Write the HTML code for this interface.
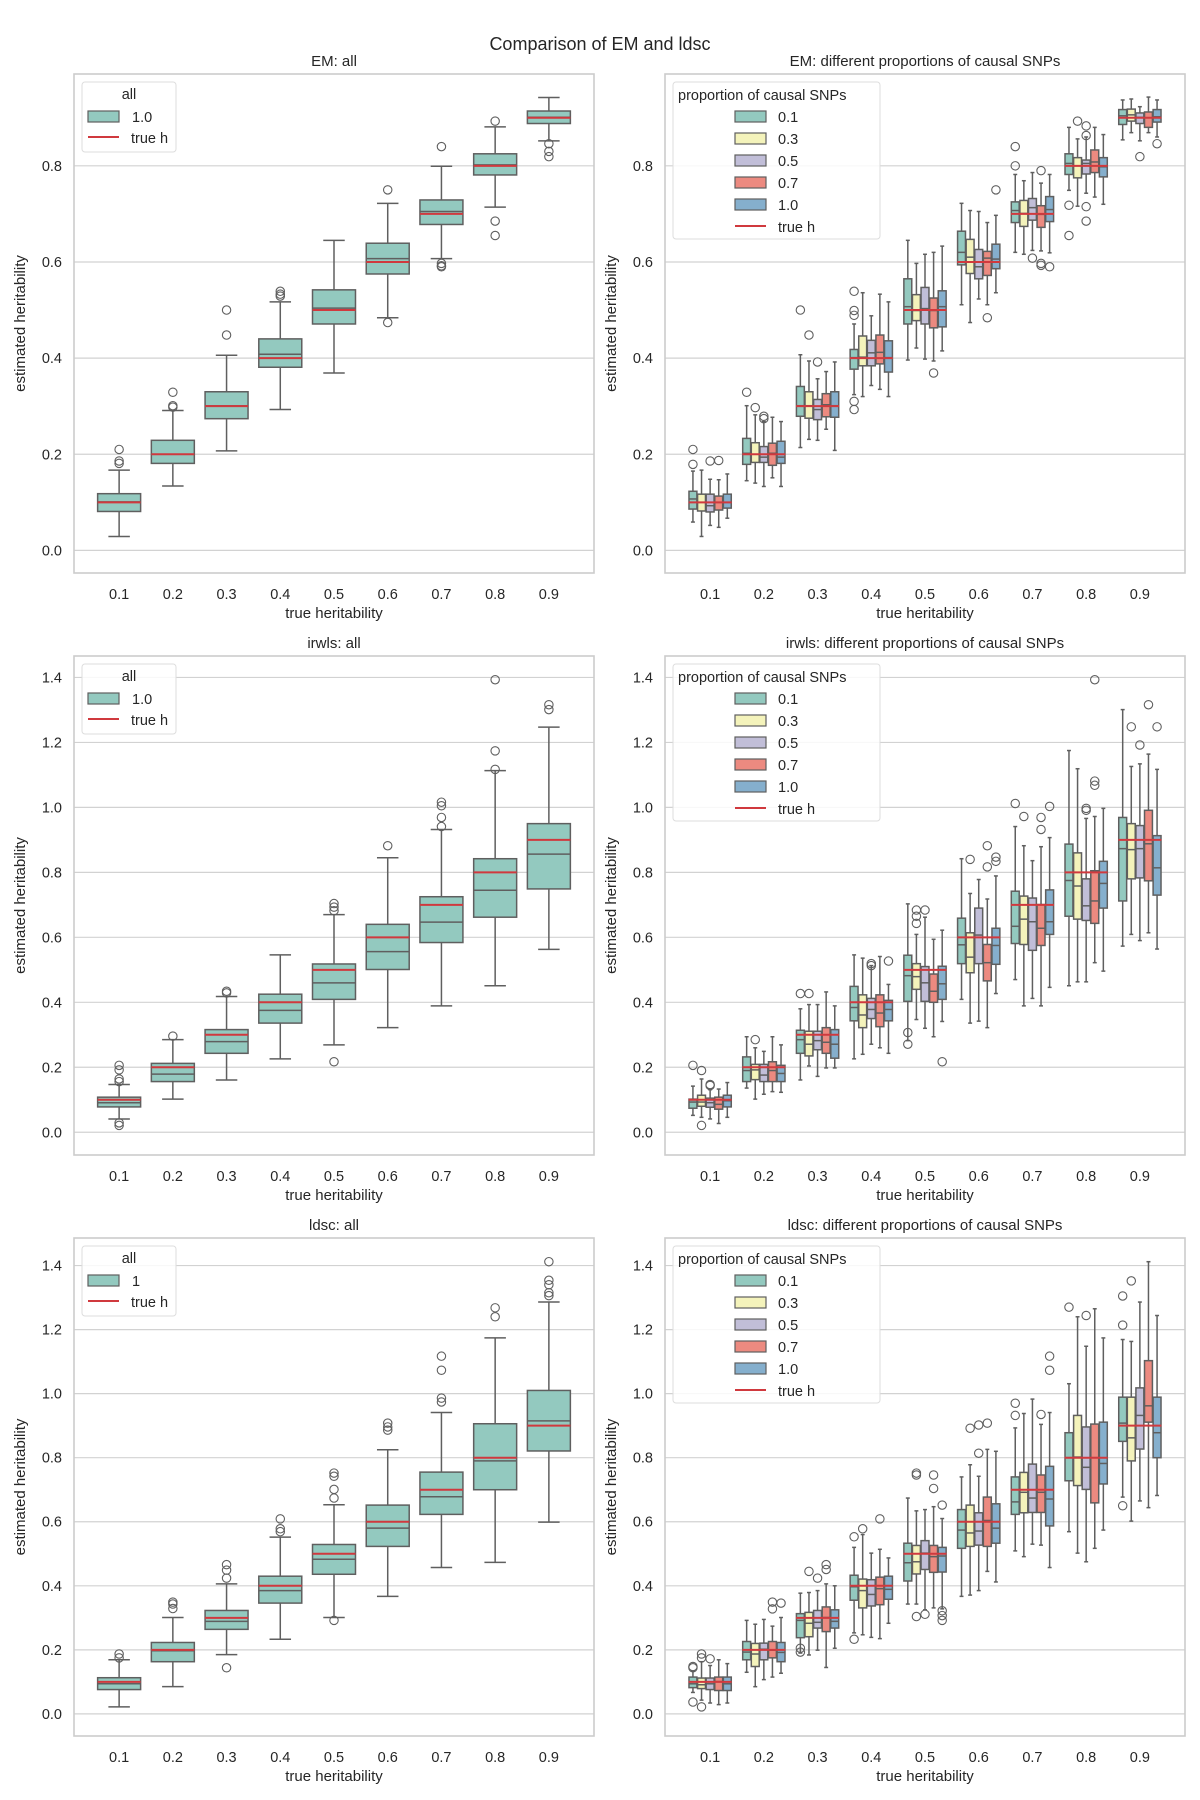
<!DOCTYPE html>
<html><head><meta charset="utf-8"><style>
html,body{margin:0;padding:0;background:#fff;}
svg{display:block;font-family:"Liberation Sans","DejaVu Sans",sans-serif;}
</style></head><body>
<svg id="fig" width="1200" height="1800" viewBox="0 0 1200 1800" xmlns="http://www.w3.org/2000/svg">
<text x="600" y="50" text-anchor="middle" font-size="18" fill="#262626">Comparison of EM and ldsc</text>
</svg>
<script>
const categories = ["0.1","0.2","0.3","0.4","0.5","0.6","0.7","0.8","0.9"];
const trueH = [0.1,0.2,0.3,0.4,0.5,0.6,0.7,0.8,0.9];
const hueLabels = ["0.1","0.3","0.5","0.7","1.0"];
const ticksRow1 = [0,0.2,0.4,0.6,0.8];
const ticksRow23 = [0,0.2,0.4,0.6,0.8,1.0,1.2,1.4];

// [lowWhisker, q1, median, q3, highWhisker]
const emAll = [[0.029,0.081,0.101,0.118,0.167],[0.134,0.181,0.2,0.229,0.291],[0.207,0.274,0.301,0.33,0.406],[0.293,0.381,0.408,0.44,0.517],[0.369,0.471,0.504,0.542,0.645],[0.484,0.575,0.607,0.639,0.722],[0.607,0.678,0.705,0.729,0.799],[0.714,0.781,0.802,0.825,0.881],[0.852,0.888,0.901,0.914,0.942]];
const emAllOut = [[0.21,0.186,0.181],[0.329,0.301,0.298],[0.448,0.5],[0.539,0.533,0.529],[],[0.75,0.474],[0.84,0.597,0.592,0.59],[0.893,0.685,0.655],[0.846,0.83,0.819]];

const emHue01 = [[0.059,0.086,0.107,0.123,0.165],[0.145,0.179,0.202,0.233,0.301],[0.214,0.279,0.301,0.341,0.407],[0.324,0.377,0.401,0.418,0.471],[0.396,0.471,0.507,0.565,0.645],[0.511,0.594,0.62,0.664,0.722],[0.62,0.682,0.707,0.725,0.782],[0.749,0.782,0.805,0.825,0.88],[0.854,0.886,0.904,0.917,0.937]];
const emHue03 = [[0.029,0.082,0.1,0.117,0.167],[0.14,0.183,0.2,0.224,0.282],[0.231,0.275,0.301,0.33,0.394],[0.32,0.384,0.402,0.446,0.536],[0.421,0.478,0.499,0.532,0.597],[0.474,0.576,0.61,0.647,0.707],[0.616,0.674,0.701,0.728,0.769],[0.716,0.775,0.8,0.817,0.856],[0.869,0.893,0.906,0.918,0.939]];
const emHue05 = [[0.052,0.08,0.093,0.117,0.148],[0.133,0.183,0.194,0.216,0.268],[0.229,0.272,0.293,0.314,0.357],[0.343,0.384,0.411,0.437,0.488],[0.398,0.471,0.503,0.547,0.616],[0.523,0.565,0.59,0.626,0.705],[0.624,0.687,0.713,0.732,0.786],[0.743,0.783,0.805,0.812,0.86],[0.852,0.888,0.901,0.91,0.923]];
const emHue07 = [[0.048,0.084,0.1,0.113,0.147],[0.151,0.177,0.202,0.223,0.277],[0.252,0.278,0.303,0.326,0.372],[0.335,0.388,0.412,0.448,0.533],[0.394,0.463,0.499,0.525,0.62],[0.511,0.572,0.608,0.622,0.682],[0.623,0.672,0.699,0.717,0.764],[0.735,0.786,0.808,0.833,0.88],[0.869,0.88,0.9,0.912,0.943]];
const emHue10 = [[0.067,0.088,0.1,0.117,0.159],[0.133,0.181,0.194,0.227,0.268],[0.208,0.277,0.301,0.33,0.392],[0.32,0.371,0.401,0.436,0.517],[0.415,0.465,0.507,0.54,0.633],[0.536,0.586,0.606,0.637,0.697],[0.619,0.684,0.709,0.736,0.782],[0.72,0.777,0.798,0.817,0.865],[0.86,0.891,0.902,0.917,0.937]];
// [group, series, value]
const emHueOut = [[0,0,0.21],[0,0,0.179],[0,2,0.186],[0,3,0.187],[1,0,0.329],[1,1,0.297],[1,2,0.279],[1,2,0.274],[2,0,0.5],[2,1,0.448],[2,2,0.392],[3,0,0.539],[3,0,0.499],[3,0,0.489],[3,0,0.31],[3,0,0.293],[4,3,0.369],[5,3,0.484],[5,4,0.75],[6,0,0.84],[6,0,0.8],[6,2,0.608],[6,3,0.597],[6,3,0.593],[6,3,0.79],[6,4,0.59],[7,0,0.718],[7,0,0.655],[7,1,0.893],[7,2,0.883],[7,2,0.863],[7,2,0.715],[7,2,0.685],[8,2,0.819],[8,4,0.846]];

const irAll = [[0.041,0.078,0.091,0.108,0.147],[0.102,0.156,0.179,0.212,0.285],[0.161,0.243,0.279,0.316,0.418],[0.226,0.336,0.375,0.425,0.546],[0.269,0.409,0.46,0.518,0.67],[0.322,0.501,0.556,0.64,0.845],[0.389,0.584,0.647,0.725,0.932],[0.451,0.662,0.745,0.842,1.113],[0.563,0.749,0.856,0.95,1.247]];
const irAllOut = [[0.206,0.192,0.164,0.156,0.029,0.021],[0.296],[0.434,0.429],[],[0.217,0.704,0.693,0.682],[0.882],[0.941,0.969,1.005,1.016],[1.117,1.174,1.393],[1.301,1.316]];

const irHue01 = [[0.052,0.074,0.093,0.102,0.142],[0.136,0.156,0.19,0.232,0.294],[0.161,0.243,0.285,0.314,0.38],[0.226,0.343,0.384,0.449,0.546],[0.282,0.403,0.482,0.545,0.703],[0.409,0.519,0.577,0.659,0.842],[0.47,0.581,0.634,0.742,0.941],[0.451,0.665,0.775,0.887,1.175],[0.573,0.712,0.873,0.969,1.301]];
const irHue03 = [[0.046,0.08,0.093,0.114,0.164],[0.102,0.162,0.192,0.209,0.26],[0.204,0.235,0.271,0.311,0.393],[0.24,0.322,0.361,0.423,0.536],[0.347,0.44,0.479,0.519,0.609],[0.336,0.491,0.539,0.614,0.735],[0.389,0.578,0.656,0.727,0.882],[0.463,0.656,0.758,0.86,1.119],[0.609,0.78,0.87,0.95,1.126]];
const irHue05 = [[0.041,0.077,0.091,0.105,0.131],[0.117,0.156,0.176,0.209,0.249],[0.172,0.254,0.282,0.311,0.393],[0.271,0.35,0.378,0.412,0.513],[0.32,0.403,0.46,0.51,0.662],[0.342,0.519,0.607,0.69,0.778],[0.412,0.56,0.648,0.721,0.836],[0.463,0.652,0.697,0.78,0.966],[0.59,0.783,0.873,0.944,1.134]];
const irHue07 = [[0.027,0.071,0.086,0.108,0.133],[0.125,0.156,0.19,0.217,0.294],[0.198,0.243,0.277,0.322,0.432],[0.26,0.325,0.367,0.423,0.541],[0.294,0.4,0.434,0.487,0.594],[0.322,0.466,0.522,0.578,0.718],[0.389,0.575,0.628,0.701,0.879],[0.522,0.643,0.712,0.805,0.972],[0.614,0.774,0.888,0.991,1.164]];
const irHue10 = [[0.046,0.078,0.097,0.114,0.153],[0.123,0.156,0.181,0.206,0.269],[0.198,0.228,0.271,0.316,0.389],[0.243,0.343,0.378,0.406,0.455],[0.341,0.409,0.457,0.511,0.622],[0.427,0.517,0.575,0.628,0.789],[0.446,0.609,0.648,0.746,0.907],[0.496,0.69,0.766,0.834,0.997],[0.564,0.73,0.814,0.913,1.117]];
const irHueOut = [[0,0,0.206],[0,1,0.19],[0,1,0.021],[0,2,0.147],[0,2,0.144],[1,1,0.285],[2,0,0.427],[2,1,0.427],[3,2,0.519],[3,2,0.513],[3,4,0.527],[4,0,0.307],[4,0,0.271],[4,1,0.684],[4,1,0.665],[4,1,0.643],[4,2,0.684],[4,4,0.217],[5,1,0.84],[5,3,0.882],[5,3,0.817],[5,4,0.847],[5,4,0.834],[6,0,1.012],[6,1,0.972],[6,3,0.969],[6,3,0.932],[6,4,1.003],[7,2,0.997],[7,2,0.991],[7,3,1.393],[7,3,1.081],[7,3,1.068],[8,1,1.248],[8,2,1.192],[8,3,1.316],[8,4,1.248]];

const ldAll = [[0.022,0.076,0.094,0.113,0.169],[0.085,0.163,0.197,0.223,0.301],[0.185,0.264,0.289,0.323,0.406],[0.233,0.346,0.385,0.43,0.552],[0.301,0.436,0.483,0.529,0.653],[0.367,0.523,0.58,0.652,0.825],[0.457,0.623,0.678,0.755,0.941],[0.473,0.7,0.79,0.906,1.174],[0.599,0.821,0.915,1.01,1.286]];
const ldAllOut = [[0.187,0.175],[0.349,0.329,0.343],[0.144,0.424,0.449,0.466],[0.569,0.578,0.609],[0.292,0.674,0.701,0.742,0.752],[0.886,0.896,0.908],[0.974,0.986,1.073,1.117],[1.24,1.268],[1.306,1.315,1.34,1.354,1.412]];

const ldHue01 = [[0.067,0.082,0.094,0.115,0.133],[0.13,0.169,0.193,0.226,0.292],[0.19,0.238,0.292,0.313,0.377],[0.253,0.355,0.397,0.433,0.52],[0.343,0.415,0.472,0.533,0.674],[0.367,0.517,0.574,0.638,0.74],[0.509,0.623,0.662,0.74,0.893],[0.569,0.728,0.8,0.878,1.031],[0.677,0.851,0.908,0.989,1.169]];
const ldHue03 = [[0.043,0.079,0.091,0.112,0.163],[0.085,0.148,0.187,0.22,0.28],[0.184,0.241,0.283,0.317,0.379],[0.247,0.331,0.385,0.421,0.56],[0.343,0.437,0.475,0.526,0.634],[0.371,0.523,0.565,0.652,0.778],[0.491,0.628,0.692,0.754,0.938],[0.502,0.713,0.802,0.932,1.24],[0.602,0.79,0.862,0.989,1.163]];
const ldHue05 = [[0.034,0.076,0.094,0.112,0.151],[0.107,0.169,0.202,0.221,0.295],[0.199,0.268,0.286,0.323,0.385],[0.239,0.337,0.373,0.419,0.502],[0.325,0.451,0.502,0.541,0.638],[0.385,0.527,0.571,0.628,0.742],[0.53,0.629,0.674,0.78,0.983],[0.475,0.701,0.77,0.896,1.148],[0.665,0.827,0.932,1.018,1.286]];
const ldHue07 = [[0.029,0.073,0.101,0.115,0.169],[0.115,0.175,0.199,0.226,0.274],[0.145,0.257,0.301,0.334,0.406],[0.235,0.341,0.391,0.427,0.514],[0.331,0.442,0.491,0.526,0.647],[0.445,0.523,0.604,0.677,0.826],[0.527,0.629,0.692,0.746,0.904],[0.517,0.659,0.8,0.905,1.265],[0.644,0.911,0.962,1.103,1.412]];
const ldHue10 = [[0.034,0.073,0.094,0.115,0.157],[0.127,0.163,0.192,0.223,0.301],[0.205,0.268,0.289,0.325,0.4],[0.283,0.358,0.389,0.43,0.487],[0.328,0.443,0.493,0.52,0.61],[0.412,0.533,0.58,0.656,0.82],[0.457,0.587,0.671,0.773,0.941],[0.574,0.718,0.782,0.911,1.174],[0.682,0.8,0.878,0.989,1.244]];
const ldHueOut = [[0,0,0.148],[0,0,0.144],[0,0,0.037],[0,1,0.187],[0,1,0.175],[0,1,0.022],[0,2,0.172],[1,3,0.349],[1,3,0.328],[1,4,0.346],[2,0,0.205],[2,0,0.193],[2,1,0.445],[2,2,0.424],[2,3,0.466],[2,3,0.451],[3,0,0.553],[3,0,0.233],[3,1,0.578],[3,3,0.609],[4,1,0.304],[4,1,0.746],[4,1,0.752],[4,2,0.311],[4,3,0.746],[4,3,0.704],[4,4,0.652],[4,4,0.322],[4,4,0.307],[4,4,0.292],[5,1,0.892],[5,2,0.902],[5,2,0.814],[5,3,0.908],[6,0,0.932],[6,0,0.97],[6,3,0.935],[6,4,1.117],[6,4,1.073],[7,0,1.27],[7,2,1.244],[8,0,0.65],[8,0,1.214],[8,0,1.305],[8,1,1.352]];

const hueColors = ["#93c9bf","#f4f3bb","#c1bed8","#ec8a80","#85afcd"];
const LINE = "#5f5f5f", RED = "#d0393e", GRID = "#d2d2d2";

const svg = document.getElementById('fig');
const NS = "http://www.w3.org/2000/svg";
function mk(tag, attrs, parent, text){
  const e = document.createElementNS(NS, tag);
  for (const k in attrs) e.setAttribute(k, attrs[k]);
  if (text !== undefined) e.textContent = text;
  (parent || svg).appendChild(e);
  return e;
}

function drawPanel(cfg){
  const g = mk('g', {});
  
  
  const L = cfg.left, R = cfg.left + 520, T = cfg.top, B = cfg.bottom;
  const ymin = cfg.ymin, ymax = cfg.ymax;
  const yS = v => B - (v - ymin) / (ymax - ymin) * (B - T);
  const xmin = -0.84, xmax = 8.84;
  const xS = i => L + (i - xmin) / (xmax - xmin) * (R - L);
  const unit = (R - L) / (xmax - xmin);

  cfg.ticks.forEach(t => {
    const y = yS(t);
    const gl = mk('line', {x1:L, x2:R, y1:y, y2:y, stroke:GRID, 'stroke-width':1.2}, g);
    
    
    const tl = mk('text', {x:L-12, y:y+5, 'text-anchor':'end', 'font-size':14.5, fill:'#262626'}, g, t.toFixed(1));
    
    
  });
  categories.forEach((c, i) => {
    const tl = mk('text', {x:xS(i), y:B+26, 'text-anchor':'middle', 'font-size':14.5, fill:'#262626'}, g, c);
    
    
  });

  function box(i, off, w, st, color){
    const cx = xS(i) + off * unit;
    const bw = w * unit;
    const bg = mk('g', {}, g);
    
    
    mk('line', {x1:cx, x2:cx, y1:yS(st[0]), y2:yS(st[1]), stroke:LINE, 'stroke-width':1.5}, bg);
    mk('line', {x1:cx, x2:cx, y1:yS(st[3]), y2:yS(st[4]), stroke:LINE, 'stroke-width':1.5}, bg);
    mk('line', {x1:cx-bw/4, x2:cx+bw/4, y1:yS(st[0]), y2:yS(st[0]), stroke:LINE, 'stroke-width':1.5}, bg);
    mk('line', {x1:cx-bw/4, x2:cx+bw/4, y1:yS(st[4]), y2:yS(st[4]), stroke:LINE, 'stroke-width':1.5}, bg);
    mk('rect', {x:cx-bw/2, y:yS(st[3]), width:bw, height:yS(st[1])-yS(st[3]), fill:color, stroke:LINE, 'stroke-width':1.5}, bg);
    mk('line', {x1:cx-bw/2, x2:cx+bw/2, y1:yS(st[2]), y2:yS(st[2]), stroke:LINE, 'stroke-width':1.5}, bg);
    return cx;
  }
  function outlier(cx, v){
    const c = mk('circle', {cx:cx, cy:yS(v), r:4.2, fill:'none', stroke:LINE, 'stroke-width':1.1}, g);
    
    
  }

  if (cfg.all){
    cfg.all.forEach((st, i) => {
      const cx = box(i, 0, 0.8, st, hueColors[0]);
      cfg.allOut[i].forEach(v => outlier(cx, v));
    });
  } else {
    const w = 0.8/5;
    cfg.hue.forEach((series, s) => {
      series.forEach((st, i) => box(i, -0.4 + w*(s+0.5), w*0.92, st, hueColors[s]));
    });
    cfg.hueOut.forEach(o => outlier(xS(o[0]) + (-0.4 + w*(o[1]+0.5))*unit, o[2]));
  }
  trueH.forEach((h, i) => {
    const ln = mk('line', {x1:xS(i)-0.4*unit, x2:xS(i)+0.4*unit, y1:yS(h), y2:yS(h), stroke:RED, 'stroke-width':2}, g);
    
    
  });

  const fr = mk('rect', {x:L, y:T, width:R-L, height:B-T, fill:'none', stroke:'#cccccc', 'stroke-width':1.6}, g);
  
  

  const tt = mk('text', {x:(L+R)/2, y:T-8, 'text-anchor':'middle', 'font-size':15, fill:'#262626'}, g, cfg.title);
  
  
  const xl = mk('text', {x:(L+R)/2, y:B+45, 'text-anchor':'middle', 'font-size':15, fill:'#262626'}, g, 'true heritability');
  
  
  const yx = L - 49, yc = (T+B)/2;
  const yl = mk('text', {x:yx, y:yc, 'text-anchor':'middle', 'font-size':15, fill:'#262626', transform:'rotate(-90 '+yx+' '+yc+')'}, g, 'estimated heritability');
  
  

  const lg = mk('g', {}, g);
  
  
  const lt = T + 8;
  if (cfg.all){
    mk('rect', {x:L+8, y:lt, width:94, height:70, rx:3, fill:'#fff', 'fill-opacity':0.85, stroke:'#dddddd', 'stroke-width':1}, lg);
    mk('text', {x:L+55, y:lt+17, 'text-anchor':'middle', 'font-size':14.5, fill:'#262626'}, lg, 'all');
    const p = mk('rect', {x:L+14, y:lt+29, width:31, height:11, fill:hueColors[0], stroke:LINE, 'stroke-width':1.2}, lg);
    
    
    mk('text', {x:L+58, y:lt+40, 'font-size':14.5, fill:'#262626'}, lg, cfg.allLabel);
    mk('line', {x1:L+14, x2:L+45, y1:lt+55, y2:lt+55, stroke:RED, 'stroke-width':2}, lg);
    mk('text', {x:L+57, y:lt+61, 'font-size':14.5, fill:'#262626'}, lg, 'true h');
  } else {
    mk('rect', {x:L+8, y:lt, width:207, height:157, rx:3, fill:'#fff', 'fill-opacity':0.85, stroke:'#dddddd', 'stroke-width':1}, lg);
    mk('text', {x:L+13, y:lt+18, 'font-size':14.5, fill:'#262626'}, lg, 'proportion of causal SNPs');
    hueLabels.forEach((lab, s) => {
      const yy = lt + 29 + s*22;
      const p = mk('rect', {x:L+70, y:yy, width:31, height:11, fill:hueColors[s], stroke:LINE, 'stroke-width':1.2}, lg);
      
      
      mk('text', {x:L+113, y:yy+11, 'font-size':14.5, fill:'#262626'}, lg, lab);
    });
    mk('line', {x1:L+70, x2:L+101, y1:lt+144, y2:lt+144, stroke:RED, 'stroke-width':2}, lg);
    mk('text', {x:L+113, y:lt+150, 'font-size':14.5, fill:'#262626'}, lg, 'true h');
  }
}

const rows = [
  {top:74, bottom:573, ymin:-0.047, ymax:0.991, ticks:ticksRow1},
  {top:656, bottom:1155, ymin:-0.07, ymax:1.466, ticks:ticksRow23},
  {top:1238, bottom:1736, ymin:-0.069, ymax:1.486, ticks:ticksRow23}
];
drawPanel(Object.assign({name:'panel-em-all', left:74, title:'EM: all', all:emAll, allOut:emAllOut, allLabel:'1.0'}, rows[0]));
drawPanel(Object.assign({name:'panel-em-hue', left:665, title:'EM: different proportions of causal SNPs', hue:[emHue01,emHue03,emHue05,emHue07,emHue10], hueOut:emHueOut}, rows[0]));
drawPanel(Object.assign({name:'panel-irwls-all', left:74, title:'irwls: all', all:irAll, allOut:irAllOut, allLabel:'1.0'}, rows[1]));
drawPanel(Object.assign({name:'panel-irwls-hue', left:665, title:'irwls: different proportions of causal SNPs', hue:[irHue01,irHue03,irHue05,irHue07,irHue10], hueOut:irHueOut}, rows[1]));
drawPanel(Object.assign({name:'panel-ldsc-all', left:74, title:'ldsc: all', all:ldAll, allOut:ldAllOut, allLabel:'1'}, rows[2]));
drawPanel(Object.assign({name:'panel-ldsc-hue', left:665, title:'ldsc: different proportions of causal SNPs', hue:[ldHue01,ldHue03,ldHue05,ldHue07,ldHue10], hueOut:ldHueOut}, rows[2]));
</script>
</body></html>
